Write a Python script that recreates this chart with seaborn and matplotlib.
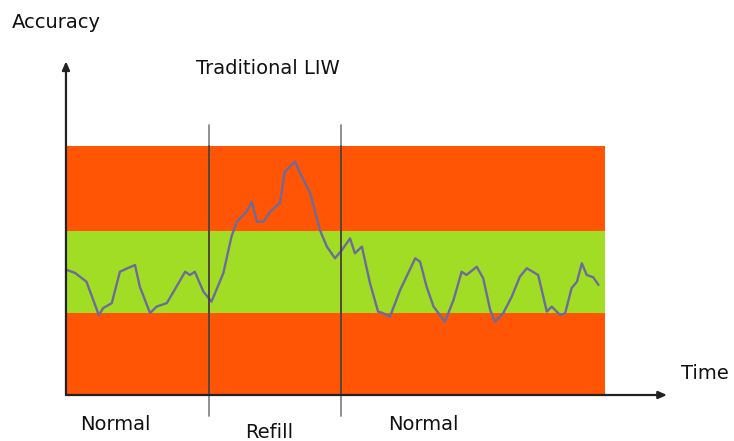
import numpy as np
import pandas as pd
import seaborn as sns
import matplotlib.pyplot as plt

# Data (time 0-100 across the box, accuracy 0-100 top to bottom of the box)
time = [0.2, 1.7, 3.8, 6.1, 6.9, 8.5, 10.0, 11.5, 12.8, 13.7, 15.6, 16.8, 18.7,
        20.5, 22.1, 23.0, 23.9, 25.5, 27.0, 29.2, 30.7, 31.7, 33.5, 34.5, 35.4,
        36.6, 37.9, 39.7, 40.6, 42.5, 43.4, 45.3, 47.1, 48.4, 49.9, 51.2, 52.7,
        53.6, 54.9, 56.4, 57.9, 58.9, 60.1, 62.0, 64.8, 65.7, 66.9, 68.2, 70.3,
        71.9, 73.4, 74.3, 76.2, 77.4, 78.7, 79.6, 81.1, 82.7, 84.2, 85.5, 87.6,
        89.2, 90.1, 91.7, 92.6, 93.8, 94.8, 95.7, 96.6, 97.8, 98.8]
accuracy = [50.2, 49.0, 45.5, 32.1, 34.9, 36.9, 49.5, 51.0, 52.2, 43.5, 32.9, 35.5, 36.9,
            43.5, 49.5, 48.2, 49.5, 41.5, 37.5, 49.0, 63.6, 69.6, 73.6, 77.6, 69.6,
            69.6, 73.6, 77.1, 89.7, 93.7, 89.2, 81.1, 66.3, 59.6, 54.9, 58.2, 62.9,
            56.9, 59.6, 44.9, 33.5, 32.8, 31.4, 42.2, 54.9, 53.5, 43.5, 35.5, 29.4,
            38.2, 49.5, 48.2, 51.5, 46.9, 34.1, 29.4, 32.8, 39.5, 47.5, 50.9, 48.2,
            33.5, 35.5, 32.1, 32.8, 42.9, 45.5, 52.9, 48.2, 47.3, 44.2]

band_low = [0, 33, 66]
band_high = [33, 66, 100]
band_colors = ["#ff5504", "#a2dd26", "#ff5504"]

phase_edges = [26.5, 51.0]
phase_labels = ["Normal", "Refill", "Normal"]
phase_label_x = [2.6, 33.2, 59.7]
phase_label_y = [-12.0, -14.9, -12.0]

df = pd.DataFrame({"time": time, "accuracy": accuracy})

sns.set_style("white")
plt.rcParams["font.family"] = ["DejaVu Sans"]

fig = plt.figure(figsize=(7.34, 4.41), dpi=100)
ax = fig.add_axes([0, 0, 1, 1])
ax.set_xlim(-12.24, 123.93)
ax.set_ylim(-18.47, 158.63)
ax.axis("off")

# accuracy bands
for lo, hi, c in zip(band_low, band_high, band_colors):
    ax.fill_between([0, 100], lo, hi, color=c, linewidth=0, zorder=1)

# measured signal
sns.lineplot(data=df, x="time", y="accuracy", ax=ax, color="#6c6c9a",
             linewidth=1.7, zorder=3, legend=False)

# phase separators: gray outside the box, darker over the bands
for xe in phase_edges:
    ax.plot([xe, xe], [-8.4, 108.4], color="#888888", linewidth=1.3, zorder=2)
    ax.plot([xe, xe], [0, 100], color="#3a2a20", alpha=0.75, linewidth=1.3, zorder=4)

# axes arrows
arrow = dict(arrowstyle="-|>,head_length=0.5,head_width=0.22", color="#222222",
             linewidth=1.6, shrinkA=0, shrinkB=0)
ax.annotate("", xy=(0, 134.0), xytext=(0, 0), arrowprops=arrow, zorder=5)
ax.annotate("", xy=(111.5, 0), xytext=(0, 0), arrowprops=arrow, zorder=5)

# texts
fs = 14
tc = "#111111"
ax.text(-10.0, 149.6, "Accuracy", fontsize=fs, va="center", ha="left", color=tc)
ax.text(37.5, 131.3, "Traditional LIW", fontsize=fs, va="center", ha="center", color=tc)
ax.text(114.1, 8.8, "Time", fontsize=fs, va="center", ha="left", color=tc)
for lx, ly, lab in zip(phase_label_x, phase_label_y, phase_labels):
    ax.text(lx, ly, lab, fontsize=fs, va="center", ha="left", color=tc)

plt.savefig("out.png", dpi=100)
